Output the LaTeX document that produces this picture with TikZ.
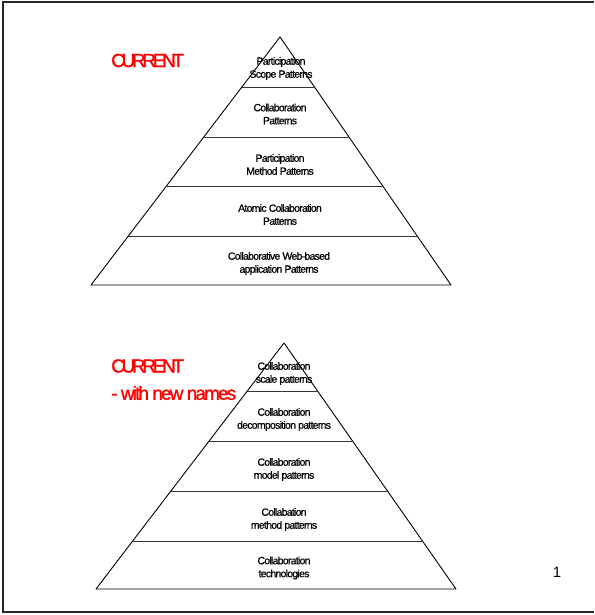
\documentclass[tikz,border=0pt]{standalone}
\usepackage{fontspec}
\setmainfont{Liberation Sans}
\newfontfamily\tightfont[LetterSpace=-7,FakeBold=0.7]{Liberation Sans}
\newfontfamily\titlefont[LetterSpace=-10,FakeBold=1.2]{Liberation Sans}
\newfontfamily\capsfont[LetterSpace=-17.5,FakeBold=1.2]{Liberation Sans}
\usetikzlibrary{calc}
\definecolor{titlered}{RGB}{255,0,0}
\tikzset{
  frameline/.style={line width=1.5pt, draw=black!85},
  pyrline/.style={line width=0.9pt, draw=black},
  bandline/.style={line width=0.9pt, draw=black!80},
  bandtext/.style={align=center, inner sep=0pt,
    font=\tightfont\fontsize{10.5}{13}\selectfont},
  titletext/.style={align=left, anchor=west, inner sep=0pt, text=titlered,
    font=\titlefont\fontsize{19}{27}\selectfont},
  capstext/.style={titletext, font=\capsfont\fontsize{19}{27}\selectfont},
}
\begin{document}
\begin{tikzpicture}[x=1pt, y=-1pt]
\useasboundingbox (0,0) rectangle (594,615);

% page frame (open on the right)
\coordinate (f1) at (594,2);
\coordinate (f2) at (3,2);
\coordinate (f3) at (3,612);
\coordinate (f4) at (594,612);
\draw[frameline] (f1) -- (f2) -- (f3) -- (f4);

% ---------- upper pyramid ----------
\coordinate (ta) at (280,37);
\coordinate (tl) at (91,285);
\coordinate (tr) at (451,285);
\draw[pyrline, line join=round] (ta) -- (tl) -- (tr) -- cycle;
\foreach \t [count=\i] in {0.2016,0.4032,0.6008,0.8024}{
  \coordinate (tl\i) at ($(ta)!\t!(tl)$);
  \coordinate (tr\i) at ($(ta)!\t!(tr)$);
  \draw[bandline] (tl\i) -- (tr\i);
}
\node[bandtext] (t1) at (281,68.5) {Participation\\Scope Patterns};
\node[bandtext] (t2) at (280,114) {Collaboration\\Patterns};
\node[bandtext] (t3) at (280,164.5) {Participation\\Method Patterns};
\node[bandtext] (t4) at (280,214.5) {Atomic Collaboration\\Patterns};
\node[bandtext] (t5) at (279,263.5) {Collaborative Web-based\\application Patterns};

\node[capstext] (cur1) at (111,60.5) {CURRENT};

% ---------- lower pyramid ----------
\coordinate (ba) at (284,343);
\coordinate (bl) at (96,589);
\coordinate (br) at (456,589);
\draw[pyrline, line join=round] (ba) -- (bl) -- (br) -- cycle;
\foreach \t [count=\i] in {0.195,0.3984,0.6016,0.8049}{
  \coordinate (bl\i) at ($(ba)!\t!(bl)$);
  \coordinate (br\i) at ($(ba)!\t!(br)$);
  \draw[bandline] (bl\i) -- (br\i);
}
\node[bandtext] (b1) at (284,373.5) {Collaboration\\scale patterns};
\node[bandtext] (b2) at (284,419.5) {Collaboration\\decomposition patterns};
\node[bandtext] (b3) at (284,469.5) {Collaboration\\model patterns};
\node[bandtext] (b4) at (284,519.5) {Collabation\\method patterns};
\node[bandtext] (b5) at (284,568) {Collaboration\\technologies};

\node[capstext] (cur2) at (111,366) {CURRENT};
\node[titletext] (cur3) at (111,393) {- with new names};

% slide number
\node[inner sep=0pt, font=\fontsize{15}{18}\selectfont] (pnum) at (557,572) {1};
\end{tikzpicture}
\end{document}
